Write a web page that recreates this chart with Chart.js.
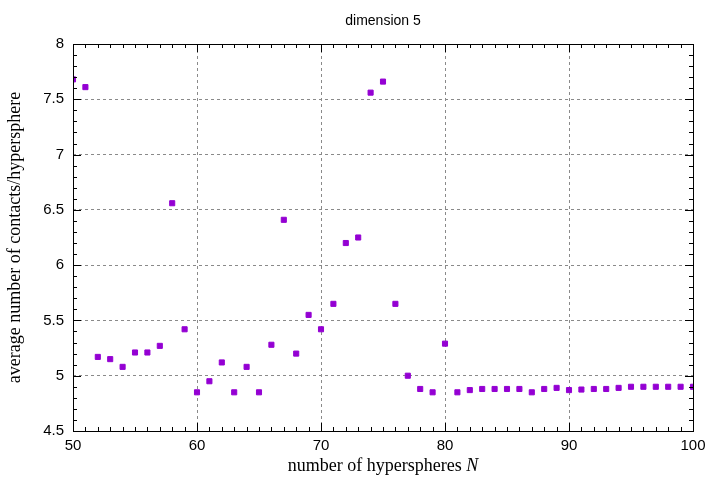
<!DOCTYPE html>
<html>
<head>
<meta charset="utf-8">
<script src="https://cdn.jsdelivr.net/npm/chart.js@4"></script>
<style>
  html, body { margin: 0; padding: 0; background: #fff; }
  #wrap { width: 720px; height: 480px; }
</style>
</head>
<body>
<div id="wrap"><canvas id="chart" width="720" height="480"></canvas></div>
<script>
/* ===== Data ===== */
const spheres = [50, 51, 52, 53, 54, 55, 56, 57, 58, 59, 60, 61, 62, 63, 64, 65, 66, 67, 68, 69, 70,
  71, 72, 73, 74, 75, 76, 77, 78, 79, 80, 81, 82, 83, 84, 85, 86, 87, 88, 89, 90,
  91, 92, 93, 94, 95, 96, 97, 98, 99, 100];
const contacts = [7.68, 7.61, 5.17, 5.15, 5.08, 5.21, 5.21, 5.27, 6.56, 5.42, 4.85, 4.95, 5.12, 4.85, 5.08, 4.85, 5.28, 6.41, 5.2, 5.55, 5.42,
  5.65, 6.2, 6.25, 7.56, 7.66, 5.65, 5.0, 4.88, 4.85, 5.29, 4.85, 4.87, 4.88, 4.88, 4.88, 4.88, 4.85, 4.88, 4.89, 4.87,
  4.875, 4.88, 4.88, 4.89, 4.9, 4.9, 4.9, 4.9, 4.9, 4.9];
const xTicks = [50, 60, 70, 80, 90, 100];
const yTicks = [4.5, 5, 5.5, 6, 6.5, 7, 7.5, 8];

/* ===== Frame, minor ticks, titles (gnuplot look) ===== */
const framePlugin = {
  id: "frame",
  afterDraw(chart) {
    const { ctx, chartArea: a, scales } = chart;
    ctx.save();
    ctx.strokeStyle = "#000";
    ctx.lineWidth = 1;
    ctx.beginPath();
    for (let v = 50; v <= 100; v += 1) {
      const x = Math.round(scales.x.getPixelForValue(v)) + 0.5;
      const len = v % 10 === 0 ? 8 : 4;
      ctx.moveTo(x, a.bottom); ctx.lineTo(x, a.bottom - len);
      ctx.moveTo(x, a.top); ctx.lineTo(x, a.top + len);
    }
    for (let i = 0; i <= 35; i++) {
      const v = 4.5 + i * 0.1;
      const y = Math.round(scales.y.getPixelForValue(v)) + 0.5;
      const len = i % 5 === 0 ? 8 : 4;
      ctx.moveTo(a.left, y); ctx.lineTo(a.left + len, y);
      ctx.moveTo(a.right, y); ctx.lineTo(a.right - len, y);
    }
    ctx.stroke();
    ctx.strokeRect(Math.round(a.left) + 0.5, Math.round(a.top) + 0.5, Math.round(a.right - a.left), Math.round(a.bottom - a.top));
    ctx.fillStyle = "#000";
    ctx.font = "14px 'Liberation Sans', Arial, sans-serif";
    ctx.textAlign = "center";
    ctx.fillText("dimension 5", (a.left + a.right) / 2, 25);

    // x title with italic N
    const serif = "'Liberation Serif', 'Times New Roman', serif";
    const main = "number of hyperspheres ";
    ctx.font = `18px ${serif}`;
    const w1 = ctx.measureText(main).width;
    ctx.font = `italic 18px ${serif}`;
    const w2 = ctx.measureText("N").width;
    let x0 = (a.left + a.right) / 2 - (w1 + w2) / 2;
    ctx.textAlign = "left";
    ctx.textBaseline = "alphabetic";
    ctx.font = `18px ${serif}`;
    ctx.fillText(main, x0, 471);
    ctx.font = `italic 18px ${serif}`;
    ctx.fillText("N", x0 + w1, 471);

    // y title
    ctx.translate(20, (a.top + a.bottom) / 2);
    ctx.rotate(-Math.PI / 2);
    ctx.textAlign = "center";
    ctx.font = `18px ${serif}`;
    ctx.fillText("average number of contacts/hypersphere", 0, 0);
    ctx.restore();
  },
};

new Chart(document.getElementById("chart"), {
  type: "scatter",
  data: {
    datasets: [{
      data: spheres.map((n, i) => ({ x: n, y: contacts[i] })),
      pointStyle: "rect",
      radius: 3.6,
      backgroundColor: "#9400d3",
      borderColor: "#9400d3",
      borderWidth: 1,
    }],
  },
  options: {
    responsive: false,
    animation: false,
    layout: { padding: { top: 44, right: 27, left: 0, bottom: 0 } },
    plugins: { legend: { display: false }, tooltip: { enabled: false } },
    scales: {
      x: {
        type: "linear", min: 50, max: 100,
        afterBuildTicks: (s) => { s.ticks = xTicks.map((v) => ({ value: v })); },
        afterFit: (s) => { s.height = 49; },
        grid: { color: "#8a8a8a", drawTicks: false },
        border: { display: false, dash: [3, 3] },
        ticks: { color: "#000", font: { size: 15, family: "'Liberation Sans', Arial" }, padding: 6,
          callback: (v) => String(v) },
      },
      y: {
        type: "linear", min: 4.5, max: 8,
        afterBuildTicks: (s) => { s.ticks = yTicks.map((v) => ({ value: v })); },
        afterFit: (s) => { s.width = 73; },
        grid: { color: "#8a8a8a", drawTicks: false },
        border: { display: false, dash: [3, 3] },
        ticks: { color: "#000", font: { size: 15, family: "'Liberation Sans', Arial" }, padding: 9,
          callback: (v) => String(v) },
      },
    },
  },
  plugins: [framePlugin],
});
</script>
</body>
</html>
